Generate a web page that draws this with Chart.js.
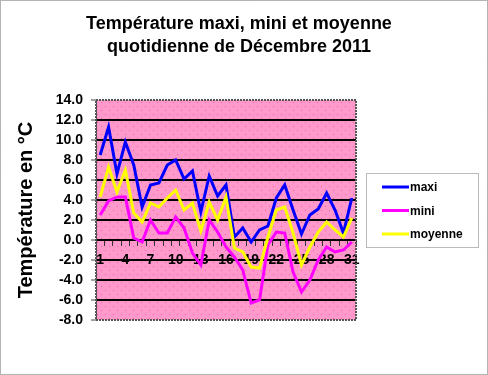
<!DOCTYPE html>
<html>
<head>
<meta charset="utf-8">
<script src="https://cdn.jsdelivr.net/npm/chart.js@4"></script>
<style>
  body { margin: 0; background: #fff; }
</style>
</head>
<body>
<canvas id="temp-chart" width="488" height="375"></canvas>
<script>
// --------------- données décembre 2011 --------------- //
const days = ['1', '2', '3', '4', '5', '6', '7', '8', '9', '10',
  '11', '12', '13', '14', '15', '16', '17', '18', '19', '20',
  '21', '22', '23', '24', '25', '26', '27', '28', '29', '30', '31'];

const maxi = [8.5, 11.3, 6.6, 9.8, 7.5, 3.3, 5.5, 5.7, 7.5, 8.0,
  6.1, 6.9, 2.8, 6.4, 4.4, 5.5, 0.3, 1.2, -0.2, 1.0,
  1.4, 4.2, 5.5, 3.0, 0.6, 2.5, 3.1, 4.7, 3.0, 0.7, 4.2];

const mini = [2.5, 3.9, 4.3, 4.3, 0.2, -0.2, 2.0, 0.7, 0.7, 2.3,
  1.2, -1.3, -2.5, 2.0, 0.8, -0.7, -1.7, -3.0, -6.3, -6.0,
  -0.5, 0.8, 0.7, -3.2, -5.2, -4.0, -2.0, -0.7, -1.2, -1.0, -0.2];

const moyenne = [4.3, 7.3, 4.8, 7.0, 2.7, 1.8, 3.7, 3.3, 4.2, 5.0,
  3.0, 3.7, 0.9, 3.8, 2.0, 4.3, -0.8, -1.2, -2.7, -2.8,
  0.3, 3.0, 3.3, 0.7, -2.5, -0.7, 0.8, 1.8, 1.0, 0.3, 2.2];

const seriesNames = ['maxi', 'mini', 'moyenne'];
const seriesColors = ['#0000ff', '#ff00ff', '#ffff00'];
const titleLines = ['Température maxi, mini et moyenne', 'quotidienne de Décembre 2011'];

const FONT = '"Liberation Sans", Arial, sans-serif';

// fond rose pointillé de la zone de tracé
function makePattern(ctx) {
  const p = document.createElement('canvas');
  p.width = 8;
  p.height = 8;
  const pc = p.getContext('2d');
  pc.fillStyle = '#ff99cc';
  pc.fillRect(0, 0, 8, 8);
  pc.fillStyle = '#e8669c';
  pc.fillRect(1, 2, 1, 1);
  pc.fillRect(5, 6, 1, 1);
  return ctx.createPattern(p, 'repeat');
}

const framePlugin = {
  id: 'frame',
  beforeDraw(chart) {
    const { ctx, chartArea: a } = chart;
    ctx.save();
    ctx.fillStyle = '#fff';
    ctx.fillRect(0, 0, chart.width, chart.height);
    ctx.strokeStyle = '#666';
    ctx.lineWidth = 1;
    ctx.setLineDash([1, 1]);
    ctx.strokeRect(0.5, 0.5, chart.width - 1, chart.height - 1);
    ctx.setLineDash([]);
    ctx.fillStyle = makePattern(ctx);
    ctx.fillRect(a.left, a.top, a.right - a.left, a.bottom - a.top);
    // titre centré sur toute la largeur
    ctx.fillStyle = '#000';
    ctx.font = 'bold 18px ' + FONT;
    ctx.textAlign = 'center';
    ctx.textBaseline = 'middle';
    titleLines.forEach((line, i) => ctx.fillText(line, 239, 24 + i * 23));
    ctx.restore();
  },
  beforeDatasetsDraw(chart) {
    const { ctx, chartArea: a } = chart;
    ctx.save();
    ctx.strokeStyle = '#555';
    ctx.lineWidth = 2;
    ctx.setLineDash([2, 1]);
    ctx.strokeRect(a.left, a.top, a.right - a.left, a.bottom - a.top);
    ctx.restore();
  }
};

// légende encadrée à droite
const legendBoxPlugin = {
  id: 'legendBox',
  afterDraw(chart) {
    const ctx = chart.ctx;
    ctx.save();
    ctx.fillStyle = '#fff';
    ctx.fillRect(367, 174, 111, 73);
    ctx.strokeStyle = '#777';
    ctx.lineWidth = 1;
    ctx.setLineDash([1, 1]);
    ctx.strokeRect(366.5, 173.5, 112, 74);
    ctx.setLineDash([]);
    ctx.font = 'bold 12px ' + FONT;
    ctx.textBaseline = 'middle';
    ctx.fillStyle = '#000';
    seriesNames.forEach((name, i) => {
      const y = 187 + i * 23.5;
      ctx.strokeStyle = seriesColors[i];
      ctx.lineWidth = 3;
      ctx.beginPath();
      ctx.moveTo(382, y);
      ctx.lineTo(409, y);
      ctx.stroke();
      ctx.fillText(name, 410, y + 1);
    });
    ctx.restore();
  }
};

const tempData = {
  labels: days,
  datasets: [maxi, mini, moyenne].map((values, i) => ({
    label: seriesNames[i],
    data: values,
    borderColor: seriesColors[i],
    backgroundColor: seriesColors[i],
    borderWidth: 3,
    pointRadius: 0,
    tension: 0,
    order: 3 - i,
  }))
};

const tempOptions = {
  responsive: false,
  animation: false,
  layout: {
    padding: { top: 100, right: 132, bottom: 55, left: 0 }
  },
  plugins: {
    legend: { display: false },
    tooltip: { enabled: false },
    title: { display: false }
  },
  scales: {
    x: {
      position: { y: 0 },
      offset: true,
      grid: {
        offset: true,
        drawOnChartArea: false,
        tickLength: 5,
        tickColor: '#333',
        tickWidth: 1
      },
      border: { display: true, color: '#000', width: 2 },
      ticks: {
        autoSkip: false,
        maxRotation: 0,
        padding: 7,
        color: '#000',
        font: { family: FONT, size: 14, weight: 'bold' },
        callback: function (val, index) {
          return index % 3 === 0 ? this.getLabelForValue(val) : '';
        }
      }
    },
    y: {
      min: -8,
      max: 14,
      afterFit: s => { s.width = 96; },
      grid: {
        color: c => (c.tick.value === 14 || c.tick.value === -8) ? 'rgba(0,0,0,0)' : '#000',
        lineWidth: 2,
        tickLength: 5,
        tickColor: '#444',
        tickWidth: 1
      },
      border: { display: true, color: '#444', width: 1 },
      ticks: {
        stepSize: 2,
        padding: 8,
        color: '#000',
        font: { family: FONT, size: 14, weight: 'bold' },
        callback: v => v.toFixed(1)
      },
      title: {
        display: true,
        text: 'Température en °C',
        color: '#000',
        font: { family: FONT, size: 20, weight: 'bold' },
        padding: { top: 14, bottom: 0 }
      }
    }
  }
};

const tempChart = new Chart(
  document.getElementById('temp-chart'),
  {
    type: 'line',
    data: tempData,
    plugins: [framePlugin, legendBoxPlugin],
    options: tempOptions
  }
);
</script>
</body>
</html>
